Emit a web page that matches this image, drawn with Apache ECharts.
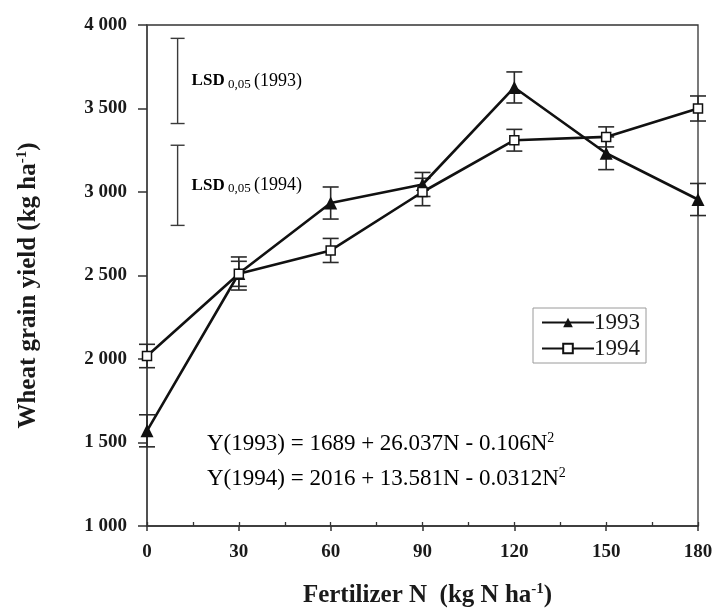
<!DOCTYPE html>
<html>
<head>
<meta charset="utf-8">
<script src="https://cdn.jsdelivr.net/npm/echarts@6/dist/echarts.min.js"></script>
<style>
  html, body { margin: 0; padding: 0; background: #fff; }
  #chart { width: 718px; height: 608px; }
</style>
</head>
<body>
<div id="chart"></div>
<script>
// Nitrogen rates (kg N/ha)
const nRates = [0, 30, 60, 90, 120, 150, 180];
// Mean wheat grain yield (kg/ha) and standard error, by season
const yield1993 = [1570, 2512, 2934, 3045, 3626, 3232, 2955];
const err1993   = [96, 99, 96, 72, 93, 98, 96];
const yield1994 = [2018, 2510, 2650, 3000, 3310, 3330, 3500];
const err1994   = [70, 75, 72, 82, 65, 60, 75];
// Least significant difference bars (low, high), drawn at N = 10
const lsdX = 10;
const lsd1993 = [3410, 3920];
const lsd1994 = [2800, 3280];
const lsdYears = ['1993', '1994'];
// Axis ticks
const yTicks = [1000, 1500, 2000, 2500, 3000, 3500, 4000];
const xTicks = [0, 30, 60, 90, 120, 150, 180];

const SERIF = '"Liberation Serif", "DejaVu Serif", serif';
const INK = '#1a1a1a';

function fmtThousands(v) {
  const k = Math.floor(v / 1000);
  const r = String(v % 1000).padStart(3, '0');
  return k > 0 ? k + ' ' + r : String(v);
}

function errorBars(name, means, errs, capHalf) {
  return {
    type: 'custom',
    name: name,
    silent: true,
    z: 1,
    clip: false,
    encode: { x: 0, y: [1, 2] },
    data: nRates.map((n, i) => [n, means[i] - errs[i], means[i] + errs[i]]),
    renderItem: function (params, api) {
      const lo = api.coord([api.value(0), api.value(1)]);
      const hi = api.coord([api.value(0), api.value(2)]);
      const x = lo[0];
      const st = { stroke: '#2a2a2a', lineWidth: 1.6 };
      return {
        type: 'group',
        children: [
          { type: 'line', shape: { x1: x, y1: hi[1], x2: x, y2: lo[1] }, style: st },
          { type: 'line', shape: { x1: x - capHalf, y1: hi[1], x2: x + capHalf, y2: hi[1] }, style: st },
          { type: 'line', shape: { x1: x - capHalf, y1: lo[1], x2: x + capHalf, y2: lo[1] }, style: st }
        ]
      };
    }
  };
}

const chart = echarts.init(document.getElementById('chart'), null, { renderer: 'canvas' });

const eqRich = {
  a: { fontFamily: SERIF, fontSize: 23, color: INK, lineHeight: 26 },
  s: { fontFamily: SERIF, fontSize: 14, color: INK, verticalAlign: 'top', lineHeight: 14 }
};
const nameRich = {
  a: { fontFamily: SERIF, fontSize: 25, fontWeight: 'bold', color: INK, lineHeight: 28 },
  s: { fontFamily: SERIF, fontSize: 15, fontWeight: 'bold', color: INK, verticalAlign: 'top', lineHeight: 15 }
};

const option = {
  backgroundColor: '#ffffff',
  animation: false,
  grid: {
    left: 147, top: 25, right: 20, bottom: 82,
    containLabel: false,
    outerBoundsMode: 'none',
    show: true, borderColor: '#333', borderWidth: 1.3, backgroundColor: 'transparent'
  },
  legend: {
    data: ['1993', '1994'],
    orient: 'vertical',
    left: 533, top: 308,
    backgroundColor: '#fff',
    borderColor: '#9a9a9a', borderWidth: 1,
    padding: [3, 6, 3, 8],
    itemGap: 3,
    itemWidth: 52, itemHeight: 12,
    textStyle: { fontFamily: SERIF, fontSize: 23, color: INK, padding: [0, 0, 0, -5] }
  },
  xAxis: [{
    type: 'value', min: 0, max: 180, interval: 30,
    axisLine: { show: true, onZero: false, lineStyle: { color: '#333', width: 1.5 } },
    axisTick: { show: true, inside: false, length: 5, lineStyle: { color: '#333', width: 1.5 } },
    splitLine: { show: false },
    axisLabel: {
      margin: 17, fontFamily: SERIF, fontSize: 19, fontWeight: 'bold', color: INK,
      formatter: v => xTicks.includes(v) ? String(v) : ''
    },
    name: '{a|Fertilizer N  (kg N ha}{s|-1}{a|)}',
    nameLocation: 'middle', nameGap: 56,
    nameTextStyle: { rich: nameRich, padding: [0, 0, 0, 10] }
  }, {
    type: 'value', min: 0, max: 180, interval: 15, position: 'bottom',
    axisLine: { show: false },
    axisTick: { show: true, inside: true, length: 4, lineStyle: { color: '#333', width: 1.3 } },
    axisLabel: { show: false },
    splitLine: { show: false }
  }],
  yAxis: {
    type: 'value', min: 1000, max: 4000, interval: 500,
    axisLine: { show: true, onZero: false, lineStyle: { color: '#444', width: 1.5 } },
    axisTick: { show: true, inside: false, length: 9, lineStyle: { color: '#333', width: 1.5 } },
    splitLine: { show: false },
    axisLabel: {
      margin: 20, fontFamily: SERIF, fontSize: 19, fontWeight: 'bold', color: INK,
      formatter: v => yTicks.includes(v) ? fmtThousands(v) : ''
    },
    name: '{a|Wheat grain yield (kg ha}{s|-1}{a|)}',
    nameLocation: 'middle', nameGap: 104,
    nameTextStyle: { rich: nameRich, padding: [0, 20, 0, 0] }
  },
  graphic: [{
    type: 'text', left: 207, top: 431,
    style: { text: '{a|Y(1993) = 1689 + 26.037N - 0.106N}{s|2}', rich: eqRich }
  }, {
    type: 'text', left: 207, top: 466,
    style: { text: '{a|Y(1994) = 2016 + 13.581N - 0.0312N}{s|2}', rich: eqRich }
  }],
  series: [
    errorBars('se1993', yield1993, err1993, 8),
    errorBars('se1994', yield1994, err1994, 8),
    {
      type: 'custom',
      name: 'LSD',
      silent: true,
      z: 1,
      encode: { x: 0, y: [1, 2] },
      data: [[lsdX, lsd1993[0], lsd1993[1], 0], [lsdX, lsd1994[0], lsd1994[1], 1]],
      renderItem: function (params, api) {
        const lo = api.coord([api.value(0), api.value(1)]);
        const hi = api.coord([api.value(0), api.value(2)]);
        const x = lo[0];
        const cap = 7;
        const st = { stroke: '#3a3a3a', lineWidth: 1.4 };
        const year = lsdYears[api.value(3)];
        return {
          type: 'group',
          children: [
            { type: 'line', shape: { x1: x, y1: hi[1], x2: x, y2: lo[1] }, style: st },
            { type: 'line', shape: { x1: x - cap, y1: hi[1], x2: x + cap, y2: hi[1] }, style: st },
            { type: 'line', shape: { x1: x - cap, y1: lo[1], x2: x + cap, y2: lo[1] }, style: st },
            {
              type: 'text',
              x: x + 14, y: (hi[1] + lo[1]) / 2,
              style: {
                text: '{b|LSD} {s|0,05} {n|(' + year + ')}',
                verticalAlign: 'middle',
                rich: {
                  b: { fontFamily: SERIF, fontSize: 17, fontWeight: 'bold', color: INK, lineHeight: 20 },
                  s: { fontFamily: SERIF, fontSize: 13, color: '#333', verticalAlign: 'bottom', lineHeight: 16 },
                  n: { fontFamily: SERIF, fontSize: 18, color: INK, lineHeight: 20 }
                }
              }
            }
          ]
        };
      }
    },
    {
      type: 'line',
      name: '1993',
      z: 3,
      clip: false,
      data: nRates.map((n, i) => [n, yield1993[i]]),
      symbol: 'triangle',
      symbolSize: 13,
      itemStyle: { color: '#111', borderColor: '#111', borderWidth: 0 },
      lineStyle: { color: '#111', width: 2.6 }
    },
    {
      type: 'line',
      name: '1994',
      z: 3,
      clip: false,
      data: nRates.map((n, i) => [n, yield1994[i]]),
      symbol: 'rect',
      symbolSize: 9,
      itemStyle: { color: '#fff', borderColor: '#111', borderWidth: 1.5 },
      lineStyle: { color: '#111', width: 2.6 }
    }
  ]
};

chart.setOption(option);
</script>
</body>
</html>
